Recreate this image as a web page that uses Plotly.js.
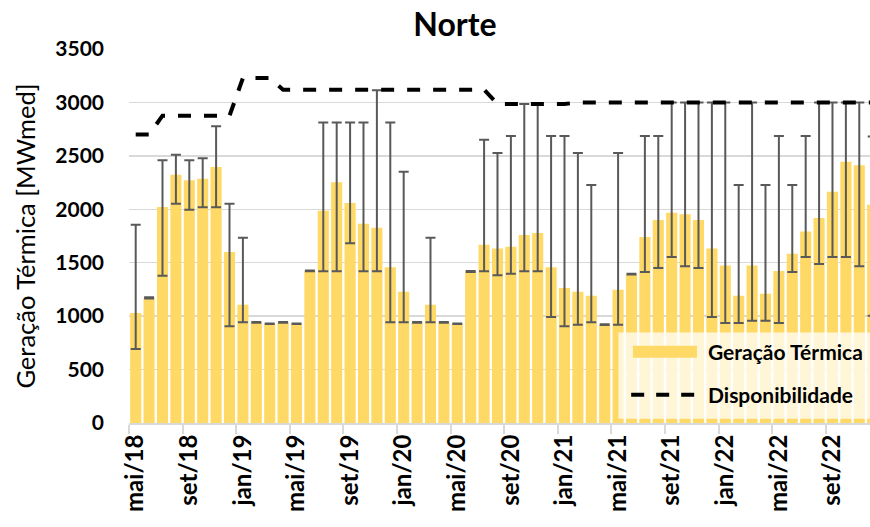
<!DOCTYPE html>
<html>
<head>
<meta charset="utf-8">
<script src="https://cdn.plot.ly/plotly-3.0.1.min.js"></script>
<style>html,body{margin:0;padding:0;background:#fff;}#chart{width:870px;height:527px;}</style>
</head>
<body>
<div id="chart"></div>
<script>
// Month categories (mai/18 .. dez/22)
const months = ["mai/18","jun/18","jul/18","ago/18","set/18","out/18","nov/18","dez/18",
  "jan/19","fev/19","mar/19","abr/19","mai/19","jun/19","jul/19","ago/19","set/19","out/19","nov/19","dez/19",
  "jan/20","fev/20","mar/20","abr/20","mai/20","jun/20","jul/20","ago/20","set/20","out/20","nov/20","dez/20",
  "jan/21","fev/21","mar/21","abr/21","mai/21","jun/21","jul/21","ago/21","set/21","out/21","nov/21","dez/21",
  "jan/22","fev/22","mar/22","abr/22","mai/22","jun/22","jul/22","ago/22","set/22","out/22","nov/22","dez/22"];

// Geração Térmica (monthly mean, MWmed)
const geracao = [1029,1170,2021,2324,2271,2286,2395,1600,
  1107,942,929,942,929,1425,1987,2252,2059,1865,1828,1457,
  1229,942,1107,942,929,1419,1669,1634,1650,1759,1778,1457,
  1263,1229,1191,920,1248,1394,1740,1899,1968,1953,1899,1634,
  1475,1191,1475,1210,1422,1584,1793,1918,2165,2445,2411,2042];

// Maximum of range (error bar top)
const maximo = [1856,1176,2458,2511,2458,2477,2776,2052,
  1734,945,932,945,932,1428,2813,2813,2813,2813,3113,2813,
  2352,945,1734,945,932,1422,2651,2526,2685,2985,2985,2685,
  2685,2526,2227,923,2526,1397,2685,2685,3000,3000,3000,3000,
  3000,2227,3000,2227,2685,2227,2685,3000,3000,3000,3000,2681];

// Minimum of range (error bar bottom)
const minimo = [692,1165,1379,2052,1996,2018,2018,905,
  942,939,926,939,926,1420,1419,1419,1681,1419,1419,942,
  942,939,942,939,926,1414,1419,1382,1397,1419,1419,992,
  905,920,942,916,920,1389,1413,1450,1553,1466,1450,992,
  936,936,958,958,936,1413,1553,1488,1553,1553,1466,1004];

// Disponibilidade
const disponibilidade = [2700,2700,2876,2876,2876,2876,2876,2876,
  3228,3228,3228,3119,3119,3119,3119,3119,3119,3119,3119,3119,
  3119,3119,3119,3119,3119,3119,3119,2985,2985,2985,2985,2985,
  2985,3000,3000,3000,3000,3000,3000,3000,3000,3000,3000,3000,
  3000,3000,3000,3000,3000,3000,3000,3000,3000,3000,3000,3000];

const FONT = "Lato, Carlito, Calibri, 'Open Sans', sans-serif";

const errPlus = geracao.map((v,i) => maximo[i] - v);
const errMinus = geracao.map((v,i) => v - minimo[i]);

const traces = [
  {
    type: 'bar', x: months, y: geracao, name: 'Geração Térmica',
    marker: {color: '#FFD966'},
    error_y: {type: 'data', symmetric: false, array: errPlus, arrayminus: errMinus,
              color: '#595959', thickness: 2, width: 5},
    showlegend: false, hoverinfo: 'x+y'
  },
  {
    type: 'scatter', mode: 'lines', x: months, y: disponibilidade, name: 'Disponibilidade',
    line: {color: '#000000', width: 4, dash: '13px,13px'},
    showlegend: false
  }
];

const layout = {
  width: 870, height: 527,
  margin: {l: 129, r: 0, t: 49, b: 104, pad: 0},
  paper_bgcolor: '#ffffff', plot_bgcolor: '#ffffff',
  font: {family: FONT, color: '#000'},
  bargap: 0.17,
  title: {text: '<b>Norte</b>', font: {family: FONT, size: 32, color: '#000'},
          x: 0.523, xanchor: 'center', xref: 'container', y: 0.953, yanchor: 'middle', yref: 'container'},
  xaxis: {
    type: 'category', range: [-0.5, 54.8], autorange: false,
    tickmode: 'linear', tick0: 0, dtick: 4, tickson: 'boundaries',
    ticks: 'outside', ticklen: 9, tickwidth: 2, tickcolor: '#D9D9D9',
    showline: true, linecolor: '#D9D9D9', linewidth: 2,
    showgrid: false, tickangle: -90,
    tickfont: {family: FONT, size: 24, color: '#000', weight: 'bold'},
    automargin: false
  },
  yaxis: {
    range: [0, 3500], autorange: false, dtick: 500, tick0: 0,
    showgrid: true, gridcolor: '#D9D9D9', gridwidth: 1.5,
    zeroline: false, showline: false, ticks: '',
    ticklabelstandoff: 24,
    tickfont: {family: FONT, size: 21, color: '#000', weight: 'bold'},
    title: {text: 'Geração Térmica [MWmed]', font: {family: FONT, size: 25.5, color: '#000'}, standoff: 12},
    automargin: false
  },
  shapes: [
    {type: 'rect', xref: 'paper', yref: 'paper', x0: 0.6606, x1: 1.01, y0: 0.0115, y1: 0.2422,
     fillcolor: 'rgba(255,255,255,0.75)', line: {width: 0}, layer: 'above'},
    {type: 'rect', xref: 'paper', yref: 'paper', x0: 0.680, x1: 0.7665, y0: 0.1746, y1: 0.2067,
     fillcolor: '#FFD966', line: {width: 0}, layer: 'above'},
    {type: 'line', xref: 'paper', yref: 'paper', x0: 0.6777, x1: 0.7665, y0: 0.0757, y1: 0.0757,
     line: {color: '#000', width: 4, dash: '13px,12px'}, layer: 'above'}
  ],
  annotations: [
    {xref: 'paper', yref: 'paper', x: 0.7787, y: 0.1906, xanchor: 'left', yanchor: 'middle',
     text: '<b>Geração Térmica</b>', showarrow: false, font: {family: FONT, size: 21, color: '#000'}},
    {xref: 'paper', yref: 'paper', x: 0.7787, y: 0.0757, xanchor: 'left', yanchor: 'middle',
     text: '<b>Disponibilidade</b>', showarrow: false, font: {family: FONT, size: 21, color: '#000'}}
  ]
};

Plotly.newPlot('chart', traces, layout, {displayModeBar: false, staticPlot: true});
</script>
</body>
</html>
